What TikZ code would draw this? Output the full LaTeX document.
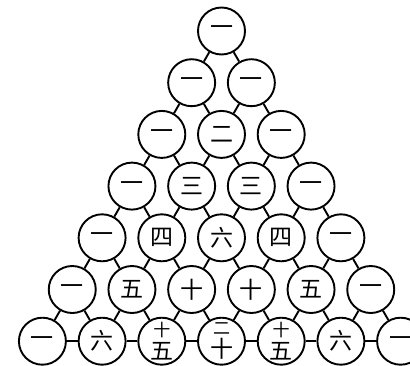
\documentclass[tikz,border=0pt]{standalone}
\usepackage{fontspec}
\newfontfamily\cjk{Noto Sans CJK SC}
\newcommand\tworow[2]{\fontsize{17}{18}\selectfont #1\\#2}
\begin{document}
\begin{tikzpicture}[x=1pt,y=1pt,
  num/.style={circle,draw,line width=1.9pt,minimum size=47pt,inner sep=0pt,
    fill=white,align=center,font=\cjk\fontsize{23}{23}\selectfont},
  link/.style={line width=1.9pt}]
\useasboundingbox (0,0) rectangle (410,-365);
\foreach \r/\labs in {0/{一},1/{一,一},2/{一,二,一},3/{一,三,三,一},
  4/{一,四,六,四,一},5/{一,五,十,十,五,一},
  6/{一,六,{\tworow{十}{五}},{\tworow{二}{十}},{\tworow{十}{五}},六,一}}{
  \foreach \lab [count=\k from 0] in \labs {
    \node[num] (n\r-\k) at ({221.5+(\k-\r/2)*59.7},{-31-\r*51.7}) {\lab};
  }
}
\foreach \r in {0,...,5}{
  \pgfmathtruncatemacro\rr{\r+1}
  \foreach \k in {0,...,\r}{
    \pgfmathtruncatemacro\kk{\k+1}
    \draw[link] (n\r-\k) -- (n\rr-\k);
    \draw[link] (n\r-\k) -- (n\rr-\kk);
  }
}
\foreach \k in {0,...,5}{
  \pgfmathtruncatemacro\kk{\k+1}
  \draw[link] (n6-\k) -- (n6-\kk);
}
\end{tikzpicture}
\end{document}
